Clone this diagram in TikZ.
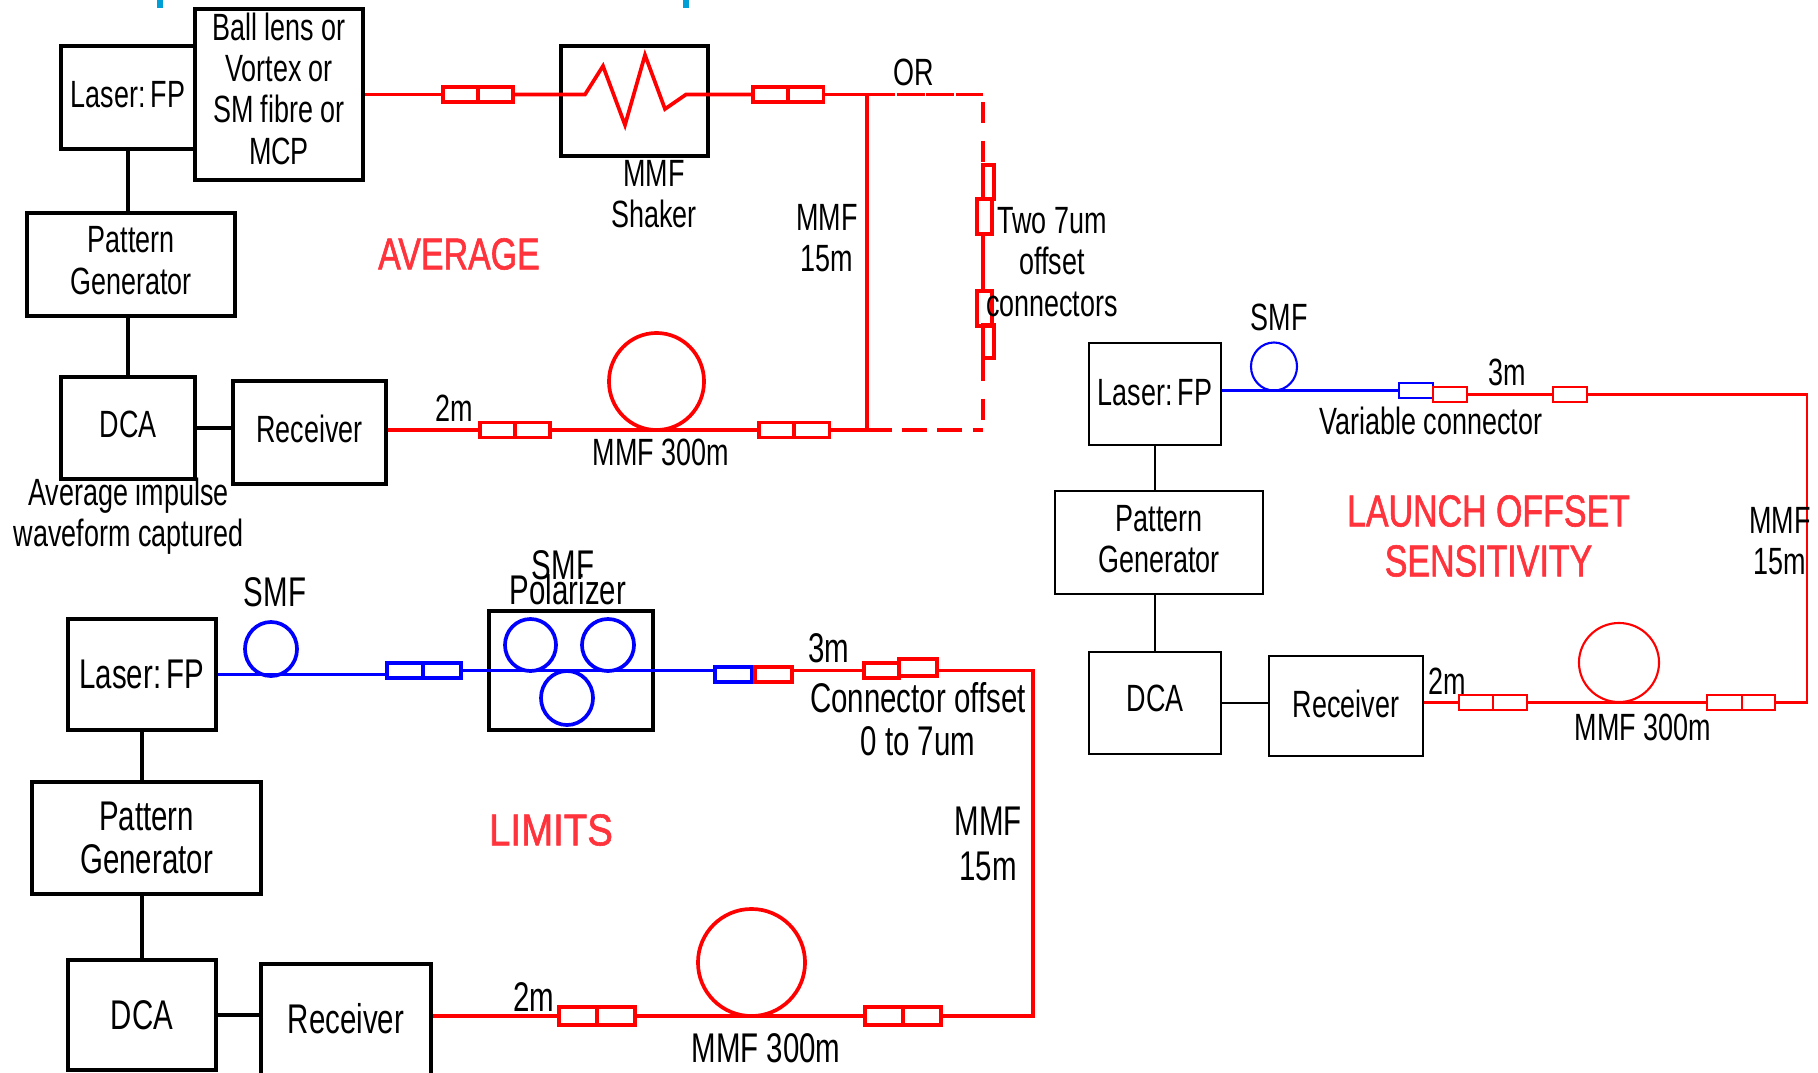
\documentclass[tikz,border=0pt]{standalone}
\usepackage{fontspec}
\usepackage{tikz}
\usetikzlibrary{shapes.geometric}
\newfontfamily\narrowfont{Liberation Sans}[FakeStretch=0.71]
\newfontfamily\headfont{Liberation Sans}[FakeStretch=0.76,FakeBold=1.3]
\newfontfamily\headwide{Liberation Sans}[FakeStretch=0.86,FakeBold=1.3]
\definecolor{headred}{RGB}{255,51,60}
\definecolor{tickblue}{RGB}{0,160,214}
\tikzset{
	lbl/.style={font=\narrowfont\fontsize{10.8}{11.7}\selectfont, inner sep=0pt, align=center},
	lblbig/.style={font=\narrowfont\fontsize{11.8}{12.2}\selectfont, inner sep=0pt, align=center},
	head/.style={font=\headfont\fontsize{12.7}{14.2}\selectfont, text=headred, inner sep=0pt, align=center},
	blk/.style={draw, line width=1pt, lbl},
	blkbig/.style={draw, line width=1pt, lblbig},
	blkthin/.style={draw, line width=0.55pt, lbl},
	wire/.style={line width=1pt},
	wirethin/.style={line width=0.55pt},
	redfib/.style={draw=red, line width=1.05pt},
	bluefib/.style={draw=blue, line width=1.05pt},
	redthin/.style={draw=red, line width=0.6pt},
	bluethin/.style={draw=blue, line width=0.6pt},
	con/.style={rectangle, inner sep=0pt, minimum width=0.35cm, minimum height=0.15cm},
	loopy/.style={ellipse, inner sep=0pt},
}
\begin{document}
\begin{tikzpicture}[x=0.01cm, y=-0.01cm]
	\useasboundingbox (0,0) rectangle (1818,1072);
	\fill[tickblue] (157,0) rectangle (163,8);
	\fill[tickblue] (683,0) rectangle (689,8);

	\node[blk, text depth=2pt, minimum width=1.34cm, minimum height=1.03cm] (avglaser) at (128,97.5) {Laser:\kern-1.5pt{} FP};
	\node[blk, text depth=3.4pt, minimum width=1.68cm, minimum height=1.71cm] (avgball) at (279,94.5) {Ball lens or\\Vortex or\\SM fibre or\\MCP};
	\node[blk, minimum width=1.47cm, minimum height=1.10cm] (avgshaker) at (634.5,101) {};
	\node[blk, text depth=2.3pt, minimum width=2.08cm, minimum height=1.03cm] (avgpattern) at (131,264.5) {Pattern\\Generator};
	\node[blk, text depth=2pt, minimum width=1.34cm, minimum height=1.02cm] (avgdca) at (128,428) {DCA};
	\node[blk, text depth=2pt, minimum width=1.53cm, minimum height=1.03cm] (avgrx) at (309.5,432.5) {Receiver};
	\draw[wire] (avglaser.south) -- (avglaser.south |- avgpattern.north);
	\draw[wire] (avgdca.north) -- (avgdca.north |- avgpattern.south);
	\draw[wire] (avgdca.east) -- (avgdca.east -| avgrx.west);

	\node[con, redfib] (avgcona) at (460.5,94.5) {};
	\node[con, redfib] (avgconb) at (495.5,94.5) {};
	\node[con, redfib] (avgconc) at (770.5,94.5) {};
	\node[con, redfib] (avgcond) at (806,94.5) {};
	\node[con, redfib] (avgcone) at (497.5,430) {};
	\node[con, redfib] (avgconf) at (532.5,430) {};
	\node[con, redfib] (avgcong) at (776.5,430) {};
	\node[con, redfib] (avgconh) at (812,430) {};
	\node[con, redfib, minimum width=0.11cm, minimum height=0.34cm] (avgconi) at (988.5,182) {};
	\node[con, redfib, minimum width=0.15cm, minimum height=0.35cm] (avgconj) at (984.5,216.5) {};
	\node[con, redfib, minimum width=0.15cm, minimum height=0.35cm] (avgconk) at (984.5,308.5) {};
	\node[con, redfib, minimum width=0.11cm, minimum height=0.33cm] (avgconl) at (988.5,341.5) {};
	\node[loopy, redfib, minimum width=0.95cm, minimum height=0.97cm] (avgloop) at (656.5,381.5) {};
	\coordinate (avgtop) at (867,94.5);
	\coordinate (avgbot) at (867,430);
	\coordinate (avgtopr) at (983,94.5);
	\coordinate (avgbotr) at (983,430);

	\draw[redfib] (avgball.east) -- (avgcona.west);
	\draw[redfib] (avgconb.east) -- (585,94.5) -- (603,66) -- (625,125) -- (645,55) -- (665,109) -- (686,94.5) -- (avgconc.west);
	\draw[redfib] (avgcond.east) -- (avgtop) -- (avgbot) -- (avgconh.east);
	\draw[redfib] (avgrx.east |- avgcone) -- (avgcone.west);
	\draw[redfib] (avgconf.east) -- (avgcong.west);
	\draw[redfib, dash pattern=on 8pt off 0.4pt] (avgtop) -- (avgtopr);
	\draw[redfib, dash pattern=on 6pt off 5pt] (983,102) -- (avgconi.north -| avgtopr);
	\draw[redfib] (avgconj.south -| avgtopr) -- (avgconk.north -| avgtopr);
	\draw[redfib, dash pattern=on 6pt off 5pt] (avgconl.south -| avgtopr) -- (avgbotr);
	\draw[redfib, dash pattern=on 7pt off 3pt] (avgbot) -- (avgbotr);

	\node[lbl] (avgshakerlbl) at (654,194) {MMF\\Shaker};
	\node[lbl] (avgor) at (914,72) {OR};
	\node[lbl] (avgmmf) at (827,238.5) {MMF\\15m};
	\node[lbl] (avgtwo) at (1052,262) {Two 7um\\offset\\connectors};
	\node[lbl] (avgtwom) at (454,408) {2m};
	\node[lbl] (avgmmfl) at (661,452) {MMF 300m};
	\node[lbl] (avgimp) at (128.5,516.5) {Average impulse\\waveform captured};
	\node[head] (avghead) at (459,254) {AVERAGE};

	\node[blkbig, minimum width=1.48cm, minimum height=1.11cm] (limlaser) at (142,674.5) {Laser:\kern-1.5pt{} FP};
	\node[blk, minimum width=1.64cm, minimum height=1.19cm] (limpol) at (571,670.5) {};
	\node[blkbig, minimum width=2.29cm, minimum height=1.12cm] (limpattern) at (146.5,838) {Pattern\\Generator};
	\node[blkbig, minimum width=1.48cm, minimum height=1.10cm] (limdca) at (142,1015) {DCA};
	\node[blkbig, text depth=0.6pt, minimum width=1.70cm, minimum height=1.11cm] (limrx) at (346,1019.5) {Receiver};
	\draw[wire] (limlaser.south) -- (limlaser.south |- limpattern.north);
	\draw[wire] (limdca.north) -- (limdca.north |- limpattern.south);
	\draw[wire] (limdca.east) -- (limdca.east -| limrx.west);

	\node[con, bluefib, minimum width=0.36cm] (limcona) at (405,670.5) {};
	\node[con, bluefib, minimum width=0.38cm] (limconb) at (442,670.5) {};
	\node[con, bluefib, minimum width=0.37cm] (limconc) at (733.5,674.5) {};
	\node[con, redfib, minimum width=0.37cm] (limcond) at (773.5,674.5) {};
	\node[con, redfib] (limcone) at (881.5,670.5) {};
	\node[con, redfib, minimum width=0.38cm, minimum height=0.17cm] (limconf) at (918,667.5) {};
	\node[con, redfib, minimum width=0.38cm, minimum height=0.18cm] (limcong) at (578,1016) {};
	\node[con, redfib, minimum width=0.38cm, minimum height=0.18cm] (limconh) at (616,1016) {};
	\node[con, redfib, minimum width=0.38cm, minimum height=0.18cm] (limconi) at (884,1016) {};
	\node[con, redfib, minimum width=0.38cm, minimum height=0.18cm] (limconj) at (922,1016) {};
	\node[loopy, bluefib, minimum width=0.52cm, minimum height=0.54cm] (limsmf) at (271,649) {};
	\node[loopy, bluefib, minimum width=0.51cm, minimum height=0.52cm] (limloopa) at (530.5,645) {};
	\node[loopy, bluefib, minimum width=0.52cm, minimum height=0.52cm] (limloopb) at (608,645) {};
	\node[loopy, bluefib, minimum width=0.52cm, minimum height=0.54cm] (limloopc) at (567,698) {};
	\node[loopy, redfib, minimum width=1.07cm, minimum height=1.07cm] (limloop) at (751.5,962.5) {};
	\coordinate (limtr) at (1033,670.5);
	\coordinate (limbr) at (1033,1016);

	\draw[bluefib] (limlaser.east) -- (limlaser.east -| limcona.west);
	\draw[bluefib] (limconb.east) -- (limconb.east -| limconc.west);
	\draw[redfib] (limcond.east |- limtr) -- (limcone.west);
	\draw[redfib] (limconf.east |- limtr) -- (limtr) -- (limbr) -- (limconj.east);
	\draw[redfib] (limrx.east |- limcong) -- (limcong.west);
	\draw[redfib] (limconh.east) -- (limconi.west);

	\node[lblbig] (limsmflbl) at (275,592) {SMF};
	\node[lblbig] (limpollbl) at (563,565) {SMF};
	\node[lblbig] (limpolb) at (568,590) {Polarizer};
	\node[lblbig] (limthree) at (829,648) {3m};
	\node[lblbig] (limoff) at (918,719.5) {Connector offset\\0 to 7um};
	\node[lblbig] (limmmf) at (988,844) {MMF\\[0.5pt]15m};
	\node[lblbig] (limtwo) at (534,997) {2m};
	\node[lblbig] (limmmfl) at (766,1048) {MMF 300m};
	\node[head, font=\headwide\fontsize{12.7}{14.2}\selectfont] (limhead) at (551,830) {LIMITS};

	\node[blkthin, text depth=1.1pt, minimum width=1.32cm, minimum height=1.02cm] (offlaser) at (1155,394) {Laser:\kern-1.5pt{} FP};
	\node[blkthin, text depth=2pt, minimum width=2.08cm, minimum height=1.03cm] (offpattern) at (1159,542.5) {Pattern\\Generator};
	\node[blkthin, text depth=2.6pt, minimum width=1.32cm, minimum height=1.02cm] (offdca) at (1155,703) {DCA};
	\node[blkthin, text depth=1.4pt, minimum width=1.54cm, minimum height=1.00cm] (offrx) at (1346,706) {Receiver};
	\draw[wirethin] (offlaser.south) -- (offlaser.south |- offpattern.north);
	\draw[wirethin] (offdca.north) -- (offdca.north |- offpattern.south);
	\draw[wirethin] (offdca.east) -- (offdca.east -| offrx.west);

	\node[con, bluethin, minimum width=0.34cm] (offcona) at (1416,390.5) {};
	\node[con, redthin, minimum width=0.34cm] (offconb) at (1450,394.5) {};
	\node[con, redthin, minimum width=0.34cm] (offconc) at (1570,394.5) {};
	\node[con, redthin, minimum width=0.34cm] (offcond) at (1476,702.5) {};
	\node[con, redthin, minimum width=0.34cm] (offcone) at (1510,702.5) {};
	\node[con, redthin, minimum width=0.35cm] (offconf) at (1724.5,702.5) {};
	\node[con, redthin, minimum width=0.33cm] (offcong) at (1758.5,702.5) {};
	\node[loopy, bluethin, minimum width=0.46cm, minimum height=0.48cm] (offsmf) at (1274,366.5) {};
	\node[loopy, redthin, minimum width=0.80cm, minimum height=0.79cm] (offloop) at (1619,662.5) {};
	\coordinate (offtr) at (1807,394.5);
	\coordinate (offbr) at (1807,702.5);

	\draw[bluethin] (offlaser.east |- offcona) -- (offcona.west);
	\draw[redthin] (offconb.east) -- (offconc.west);
	\draw[redthin] (offconc.east) -- (offtr) -- (offbr) -- (offcong.east);
	\draw[redthin] (offrx.east |- offcond) -- (offcond.west);
	\draw[redthin] (offcone.east) -- (offconf.west);

	\node[lbl] (offsmflbl) at (1279,317) {SMF};
	\node[lbl] (offthree) at (1507,372) {3m};
	\node[lbl] (offvar) at (1431,421) {Variable connector};
	\node[lbl] (offmmf) at (1780,541) {MMF\\15m};
	\node[lbl] (offtwo) at (1447,681) {2m};
	\node[lbl] (offmmfl) at (1643,727) {MMF 300m};
	\node[head] (offhead) at (1488.5,536) {LAUNCH OFFSET\\SENSITIVITY};
\end{tikzpicture}
\end{document}
